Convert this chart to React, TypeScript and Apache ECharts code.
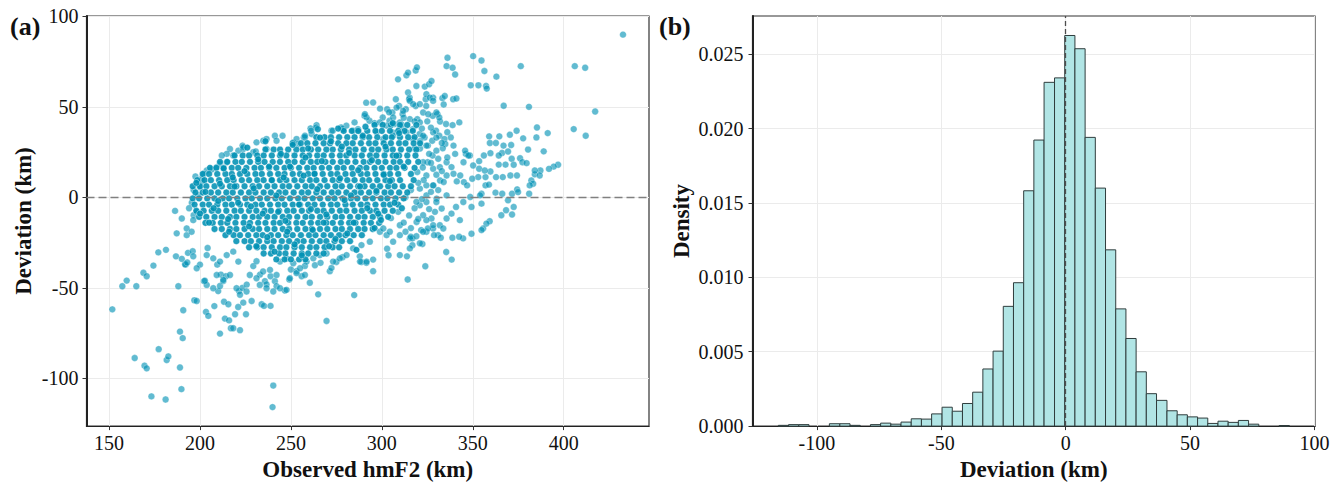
import { useEffect, useRef } from 'react';
import * as echarts from 'echarts';

const SERIF = "'Liberation Serif', 'Times New Roman', serif";

// ---- panel (a): observed hmF2 vs deviation ----
const xTicksA = [150, 200, 250, 300, 350, 400];
const yTicksA = [-100, -50, 0, 50, 100];
const xRangeA = [137.6, 446.9];
const yRangeA = [-126.4, 100.2];

// sparse points below the cloud
const lowPoints: [number, number][] = [
  [151.8, -61.9], [157.3, -49.1], [159.7, -46], [165, -49.1], [168.9, -41.7], [170.7, -43.6],
  [174.4, -37.7], [177.1, -30.4], [181.3, -29], [186.8, -32.6], [188.1, -49.1], [192.1, -37.2],
  [193.4, -30.7], [196, -29.8], [196.3, -32.6], [196.9, -56.9], [198.2, -57.3], [200, -37.2],
  [202.2, -46.3], [203.3, -63.3], [204.6, -65.5], [190.8, -62.4], [189, -74.2], [190.5, -77.8],
  [177.3, -83.9], [164.1, -88.8], [181.7, -89.9], [182.6, -87.9], [169.5, -93], [170.7, -94.5],
  [189, -94], [189.8, -106], [173.3, -110], [181.1, -111.7], [207.9, -60.1], [204.2, -28],
  [209.5, -37.2], [210, -51.8], [211, -49], [212.8, -46.3], [211.5, -42.7], [214.3, -43.6],
  [213.2, -57.7], [215.6, -59.1], [213.7, -67], [216, -68], [217, -72.3], [218.3, -72.3],
  [222, -73.4], [211, -75.3], [219.3, -64.6], [221, -60.6], [221.5, -51.8], [223.3, -50],
  [225.3, -64.6], [225.7, -48.2], [223.8, -58.2], [228.4, -57.3], [233.9, -59.1], [235.2, -60],
  [238.8, -60], [229.3, -38], [231.1, -35.3], [233, -42.7], [235.7, -46.3], [236.6, -48.1],
  [238.8, -43.6], [241.2, -46.3], [242.1, -49.1], [246.7, -51.5], [249.1, -45.4], [250, -39.9],
  [253.1, -40.8], [255.9, -43.6], [260.4, -47.2], [265, -53.6], [269.6, -68.3], [240.3, -104],
  [239.9, -115.9], [284.8, -54], [263.2, -37.5], [266.3, -36.2], [257.7, -37.9], [271.4, -40.8],
  [272.3, -39], [275, -35.7], [278.4, -33.1], [288.8, -35.7], [291.5, -36.2], [295.2, -40.8],
  [295.2, -34.4], [287.9, -32.6], [302.9, -28.4], [303.7, -32], [313.8, -32.6], [314.2, -45.4],
  [316.8, -26.5], [322.3, -25.8], [323.9, -38.1], [335.4, -30.2], [338.4, -34.4],
  [198.2, -39.2], [203.7, -48.4], [207.3, -50.2], [209.2, -42.9], [212.8, -45.6], [216.5, -42.9],
  [211, -35.5], [214.7, -31.9], [218.3, -30], [221.1, -35.5], [207.3, -33.7], [203.7, -31.9],
  [220.1, -50.2], [222, -53.8], [225.6, -52], [227.4, -42.9], [231.1, -44.7], [232.9, -48.4],
  [234.7, -41], [238.5, -40.1], [242.1, -42.9], [236.6, -50.2], [240.3, -52], [244, -50.2],
  [247.6, -51.1], [249.4, -44.7], [253.1, -41.9], [257.7, -42.9], [244, -35.5], [247.6, -33.7],
  [251.3, -36.4], [255, -39.2], [258.6, -35.5], [262.3, -33.7], [265.9, -31.9], [269.6, -31],
  [273.2, -35.5], [276.9, -33.7], [280.6, -31.9], [288, -35.5], [291.6, -35.5], [284.2, -28.2],
  [288.8, -26.4], [293.4, -24.5], [298.9, -19], [302.6, -20.9], [306.2, -24.5], [315.4, -22.7],
  [320.9, -25.4], [324.5, -19], [328.2, -17.2], [330.9, -20.9], [309.9, -31.9], [315.4, -28.2],
  [191.8, -37], [190, -34], [193, -36], [202.7, -46.1],
];

// edge of the cloud, left and top
const edgePoints: [number, number][] = [
  [190, -11.7], [196.5, -9.9], [192.7, -20.9], [186.3, -7.5], [187.2, -19.9], [192.7, -17.2],
  [195.4, -19], [196.3, -12.6], [198.2, -8], [199.1, 1.1], [201.3, 8.8], [206.4, 15.4],
  [209.2, 16.7], [211, 18.5], [214.7, 19.4], [218.3, 23.1], [221.1, 25.8], [223.8, 26.7],
  [223.4, 28.6], [229.3, 24.9], [231.1, 30.4], [234.8, 31.3], [236.6, 32.2], [241.2, 34],
  [245.4, 34], [242.1, 31.3], [251.3, 30.4], [253.1, 32.2], [257.1, 33.1], [261.4, 35],
  [264.7, 37.7], [216.5, 26.7], [214.7, 24], [212, 23.1], [203.7, 14.8], [202.2, 13],
  [200.9, 10.3], [200, 5.7], [260.8, 38.1], [264.1, 39.9], [223.8, 27.7], [230.7, 25.3],
  [236.6, 26.7], [254, 29.5], [257.7, 33.1], [272.3, 36.8], [278.8, 37.7], [284.2, 36.8],
  [287, 36.8], [196.5, 4], [195.5, -3], [197.5, 11.5], [194, -6],
];

// upper right tail
const upperPoints: [number, number][] = [
  [432.6, 89.9], [406.1, 72.5], [411.8, 71.6], [417.3, 47.4], [405.5, 37.7], [412.1, 34],
  [376.4, 72.5], [380.9, 50], [367, 50.6], [363, 66.7], [391.2, 35.5], [385.3, 38.6],
  [385, 33.1], [389, 25.4], [396.9, 18], [394.5, 17], [391.9, 15.7], [387.2, 14.8],
  [384.1, 12.7], [386.8, 12.1], [382.2, 9.3], [383.2, 7.5], [381.3, 6.6], [381, 2],
  [350.2, 78], [354.8, 75.6], [336.1, 77.1], [335.6, 72.5], [338.9, 71.6], [340.3, 67.9],
  [356.4, 69.8], [348.9, 61.9], [353.1, 61.9], [357.3, 61.5], [357.7, 60.1], [308.9, 65.2],
  [313.5, 67.4], [314.4, 68.9], [318.6, 70.1], [319.3, 71.8], [319, 61.5], [323.6, 61.2],
  [326, 62.5], [327.3, 64.3], [314.4, 57.9], [315.3, 55.1], [328.2, 55.1], [333.3, 54.8],
  [334.6, 56], [339.2, 54.2], [341, 54.6], [334, 51.3], [324.4, 50.5], [330.6, 46],
  [332, 41.9], [337.9, 33.1], [291.4, 52.3],
];

// band right of the cloud
const rightPoints: [number, number][] = [
  [359, 33.7], [364.6, 33.7], [370.4, 34.6], [374.1, 36.8], [377.7, 32.6], [359.4, 30],
  [362.7, 30], [366.9, 28.6], [371.1, 28.9], [380.4, 26.4], [366.1, 24.5], [369.4, 25.3],
  [359.7, 24.4], [364.3, 23.1], [356.1, 23.1], [353.5, 20], [348.4, 23.1], [346.2, 24],
  [371.4, 21.3], [376, 21.6], [377.3, 19.4], [379.6, 18.9], [384.1, 14.8], [364.3, 18.1],
  [368, 18.1], [359.7, 14.3], [362.8, 11.2], [366.5, 11.2], [370.7, 12.1], [374.3, 12.1],
  [372.5, 18], [357, 11.2], [353, 11.2], [349.7, 10.3], [345.1, 8.4], [346.9, 6.6],
  [357, 6.6], [354.8, 2], [362.5, 2.6], [366.2, 2], [369.4, -1.6], [371.6, 2],
  [374.4, 4.4], [374.9, 2.9], [372.5, -5.3], [371.6, -9.5], [368.3, -7.1], [354.8, -3.5],
  [349.3, -5.3], [365.7, -9.9], [359.3, -13.2], [357.5, -14.5], [355.7, -17.2], [354.8, -18.1],
  [349.3, -20.1], [344.7, -22.7], [342.9, -12.6], [338.3, -9], [335.6, -11.7], [340.8, -5.3],
  [344.8, -2.6], [348.6, 0.2], [354, 1.1], [335.6, 1.1], [330.1, -0.7], [332.9, -6.2],
  [329.2, -8], [327.3, -11.7], [331.9, -15.4], [333.8, -17.2], [325.3, -17.2], [321.6, -18.1],
  [316.8, -22.7], [315.9, -21.8], [328.7, -20.9], [332.4, -22.3], [338.8, -22.3], [342.5, -21.8],
  [358.9, 7],
];

// the looser part of the cloud, x 290-350
const midPoints: [number, number][] = [
  [328, 45], [331.6, 44.1], [335.3, 40.5], [338.9, 39.9], [342.6, 41.4], [329.8, 36.8],
  [331.6, 34], [334.4, 32.2], [334.9, 29.5], [333.5, 27.1], [339.4, 28.6], [340.3, 24],
  [345.8, 25.8], [347.6, 23.1], [344.9, 19.4], [350.2, 17.6], [353.5, 15.8], [356.6, 14.8],
  [335.6, 19.4], [331.9, 16.7], [338.3, 16.7], [331, 21.3], [327.9, 23.1], [325.2, 19.4],
  [339.4, 13], [343.1, 12.1], [341.2, 8.8], [335.6, 12.1], [332, 9.3], [328.3, 6.6],
  [315, 54.2], [318.6, 50.5], [324.1, 54.2], [322.7, 46.9], [319.5, 43.2], [317.1, 37.7],
  [320.8, 35], [323.5, 33.1], [325.3, 28.6], [327.7, 31.3], [307.7, 54.2], [309.5, 50.5],
  [311.4, 46], [313.2, 48.7], [300.5, 44.1], [304.2, 42.3], [306.9, 40.5], [306, 35.9],
  [309.7, 37.7], [302.9, 48.7], [305.8, 46.9], [290.5, 45], [293.2, 42.3], [296, 41],
  [280.5, 39.6], [285, 41.4], [286.9, 37.7], [278.6, 37.7], [273, 36.8], [277.6, 38.6],
  [263.9, 38.6], [264.8, 37.7], [261.1, 36.8], [257.7, 34],
  [295.2, 52.4], [291.6, 44.2], [290.7, 46], [308.1, 49.6], [311.7, 47.8], [315.4, 53.3],
  [317.2, 51.5], [320.9, 51.5], [324.5, 57], [326.4, 55.1], [328.2, 53.3], [306.2, 44.1],
  [309.9, 41.4], [315.4, 43.2], [320.9, 41.4], [325.5, 45.9], [330, 46.9], [298.9, 41.4],
  [302.6, 39.6], [297.1, 35.9], [300.8, 32.2], [306.2, 34], [313.6, 35.9], [317.2, 32.2],
  [322.7, 34], [328.2, 35.9], [324.5, 28.6], [330, 25.8], [322.7, 19.4], [328.2, 15.8],
  [324.5, 12.1], [328.2, 6.6], [324.5, 1.1], [330, -2.6], [320.9, -4.4], [324.5, -12.6],
  [328.2, -15.4], [322.7, -19], [320.9, 4.8], [324.5, 6.6], [324.5, -2.6], [322.7, -9.9],
  [319.1, -13.6], [309.9, -15.4], [304.4, -19], [309.9, -20.9], [300.8, -17.2],
  [321, 27], [326, 24], [319.5, 14], [323, 9.5], [327, 3], [322, -1], [318, -6], [315, -10],
  [312, -14], [316, -17], [320, -12], [326, -6.5], [331, 4], [334, 8.5], [330, 12.5], [336, 22],
  [333, 30], [327, 38.5], [322, 38], [318, 42], [312, 44], [304, 47], [299, 49], [311, 40],
  [325, 42], [321, 31], [330, 33], [336, 36], [318, 27], [322.5, 16.5], [327, 19], [333, 14.5],
  [320, 8], [316, 4], [313, 0], [319, -2.5], [309, -8], [305, -11.5], [313, -19], [319, -21.5],
];

// dense core, one row per deviation value, x positions along the row
const coreRows: [number, number[]][] = [
  [40, [296, 300.5, 305, 310, 314, 319]],
  [36.7, [279, 283.5, 287, 292, 296.5, 300, 304.5, 309, 312.5, 317]],
  [33.2, [264, 268.5, 272, 276.5, 281, 285, 289.5, 293, 297.5, 302, 305.5, 310, 314.5, 318]],
  [29.9, [251, 255.5, 259, 263.5, 268, 271.5, 276, 280.5, 284, 288.5, 293, 296.5, 301, 305, 309.5, 313, 317.5, 321]],
  [26.4, [236, 240.5, 244, 248.5, 253, 256.5, 261, 265, 269.5, 273, 277.5, 282, 285.5, 290, 294.5, 298, 302.5, 306, 310.5, 315, 319]],
  [23.1, [219, 223.5, 227, 231.5, 235, 239.5, 244, 247.5, 252, 256.5, 260, 264.5, 268, 272.5, 277, 280.5, 285, 289, 293.5, 297, 301.5, 306, 309.5, 314, 318.5]],
  [19.6, [211, 215, 219.5, 223, 227.5, 232, 235.5, 240, 244, 248.5, 252, 256.5, 261, 264.5, 269, 273, 277.5, 281, 285.5, 290, 293.5, 298, 302, 306.5, 310, 314.5, 320]],
  [16.3, [205.5, 209, 213, 217.5, 221, 225.5, 230, 233.5, 238, 242, 246.5, 250, 254.5, 259, 262.5, 267, 271, 275.5, 279, 283.5, 288, 291.5, 296, 300, 304.5, 308, 312.5, 318]],
  [12.9, [201.5, 205, 209.5, 214, 217.5, 222, 226, 230.5, 234, 238.5, 243, 246.5, 251, 255, 259.5, 263, 267.5, 272, 275.5, 280, 284, 288.5, 292, 296.5, 301, 304.5, 309, 316]],
  [9.5, [198.5, 202.5, 206, 210.5, 215, 218.5, 223, 227, 231.5, 235, 239.5, 244, 247.5, 252, 256, 260.5, 264, 268.5, 273, 276.5, 281, 285, 289.5, 293, 297.5, 302, 305.5, 310, 317.5]],
  [6.1, [196, 200, 203.5, 208, 212, 216.5, 220, 224.5, 229, 232.5, 237, 241, 245.5, 249, 253.5, 258, 261.5, 266, 270, 274.5, 278, 282.5, 287, 290.5, 295, 299, 303.5, 307, 311.5, 316]],
  [2.7, [197.5, 201.5, 206, 210, 214.5, 218, 222.5, 227, 230.5, 235, 239, 243.5, 247, 251.5, 256, 259.5, 264, 268, 272.5, 276, 280.5, 285, 288.5, 293, 297, 301.5, 305, 309.5, 314]],
  [-0.6, [196, 199.5, 204, 208, 212.5, 216, 220.5, 225, 228.5, 233, 237, 241.5, 245, 249.5, 254, 257.5, 262, 266, 270.5, 274, 278.5, 283, 286.5, 291, 295, 299.5, 303, 307.5, 312]],
  [-4, [197, 201.5, 205, 209.5, 214, 217.5, 222, 226, 230.5, 234, 238.5, 243, 246.5, 251, 255, 259.5, 263, 267.5, 272, 275.5, 280, 284, 288.5, 292, 296.5, 301, 304.5, 309]],
  [-7.4, [198, 202, 206.5, 210, 214.5, 219, 222.5, 227, 231, 235.5, 239, 243.5, 248, 251.5, 256, 260, 264.5, 268, 272.5, 277, 280.5, 285, 289, 293.5, 297, 301.5, 306]],
  [-10.8, [199.5, 203.5, 208, 212, 216.5, 220, 224.5, 229, 232.5, 237, 241, 245.5, 249, 253.5, 258, 261.5, 266, 270, 274.5, 278, 282.5, 287, 290.5, 295, 299, 303.5]],
  [-14.1, [203, 207, 211.5, 215, 219.5, 224, 227.5, 232, 236, 240.5, 244, 248.5, 253, 256.5, 261, 265, 269.5, 273, 277.5, 282, 285.5, 290, 294, 298.5]],
  [-17.5, [208, 212, 216.5, 220, 224.5, 229, 232.5, 237, 241, 245.5, 249, 253.5, 258, 261.5, 266, 270, 274.5, 278, 282.5, 287, 290.5, 295]],
  [-20.9, [214, 218.5, 222, 226.5, 231, 234.5, 239, 243, 247.5, 251, 255.5, 260, 263.5, 268, 272, 276.5, 280, 284.5, 289]],
  [-24.2, [220, 224.5, 228, 232.5, 237, 240.5, 245, 249, 253.5, 257, 261.5, 266, 269.5, 274, 278, 282.5]],
  [-27.6, [227, 231.5, 235, 239.5, 244, 247.5, 252, 256, 260.5, 264, 268.5, 273, 276.5]],
  [-31, [235, 239, 243.5, 247, 251.5, 256, 259.5, 264, 268]],
  [-34.3, [242, 246.5, 250, 254.5, 258]],
];

// extra points scattered through the core (overplotting)
const coreExtra: [number, number][] = [
  [203, 3], [207.5, -6], [211, 7.5], [215.5, -12], [218, 11], [221, -3], [224.5, 14.5], [227, -16],
  [229.5, 5], [232, 21], [234.5, -9], [237, -22], [239.5, 9.5], [242, 1], [244.5, 24], [247, -13],
  [249.5, 17], [252, -26], [254.5, -4], [257, 12], [259.5, 27], [262, -18], [264.5, 4.5], [267, 20],
  [269.5, -9.5], [272, 31], [274.5, -23], [277, 10.5], [279.5, -1.5], [282, 24.5], [284.5, -14],
  [287, 15], [289.5, 34], [292, -6], [294.5, 20.5], [297, 3.5], [299.5, -12.5], [302, 28],
  [304.5, 9], [307, -3], [309.5, 35.5], [312, 17], [205, -14], [213, 16], [216, -19], [226, 27.5],
  [231, -27], [236, 31], [241, -30], [246, 11], [251, 29], [256, -32], [261, -6.5], [266, 33],
  [271, -27], [276, 38], [281, -20], [286, -29], [291, 39], [296, -17], [301, 12.5], [306, 41],
  [311, -6], [200, -9], [198, 8], [210, -2], [219, 6], [228, -5], [238, 17], [248, -19],
  [258, 22], [268, -14], [278, 28], [288, 6], [298, -9], [308, 23], [243, -8], [263, 13], [283, 1],
];

// ---- panel (b): histogram of deviation ----
const xTicksB = [-100, -50, 0, 50, 100];
const yTicksB = [0, 0.005, 0.01, 0.015, 0.02, 0.025];
const xRangeB = [-125.9, 100.2];
const yRangeB = [0, 0.02757];

const binEdges = [
  -115.5, -111.4, -107.3, -103.2, -99.1, -95.0, -90.8, -86.7, -82.6, -78.5, -74.4, -70.3, -66.2,
  -62.1, -58.0, -53.9, -49.7, -45.6, -41.5, -37.4, -33.3, -29.2, -25.1, -21.0, -16.9, -12.8,
  -8.7, -4.5, -0.4, 3.7, 7.8, 11.9, 16.0, 20.1, 24.2, 28.3, 32.4, 36.5, 40.7, 44.8, 48.9,
  53.0, 57.1, 61.2, 65.3, 69.4, 73.5, 77.6, 81.7, 85.8, 89.9,
];
const densities = [
  0.00005, 0.0001, 0.0001, 0, 0, 0.00016, 0.00016, 0.00005, 0, 0.0001,
  0.0002, 0.00013, 0.00027, 0.00049, 0.00047, 0.00082, 0.00127, 0.001, 0.00152, 0.00228,
  0.00384, 0.00504, 0.00805, 0.00964, 0.01582, 0.01923, 0.02311, 0.02341, 0.02626, 0.02537,
  0.01941, 0.016, 0.01185, 0.00788, 0.00589, 0.00365, 0.00218, 0.00173, 0.00103, 0.00076,
  0.00062, 0.00054, 0.00018, 0.00033, 0.00025, 0.00038, 0.00013, 0, 0, 0.00004,
];

const tickText = { fontFamily: SERIF, fontSize: 20, color: '#111' };
const titleText = { fontFamily: SERIF, fontSize: 23, fontWeight: 'bold' as const, color: '#111' };
const gridLine = { show: true, lineStyle: { color: '#ebebeb', width: 1 } };

function valueAxis(grid: number, range: number[], ticks: number[], name: string, gap: number, fmt: (v: number) => string, margin: number, lineWidth: number) {
  return {
    type: 'value' as const,
    gridIndex: grid,
    min: range[0],
    max: range[1],
    name,
    nameLocation: 'middle' as const,
    nameGap: gap,
    nameTextStyle: titleText,
    axisLine: { show: true, onZero: false, lineStyle: { color: '#222', width: lineWidth } },
    axisTick: { show: true, length: 4, customValues: ticks, lineStyle: { color: '#333', width: 1 } },
    axisLabel: { customValues: ticks, margin, formatter: fmt, ...tickText },
    splitLine: gridLine,
  };
}

export default function App() {
  const ref = useRef<HTMLDivElement | null>(null);

  useEffect(() => {
    if (!ref.current) return undefined;
    const chart = echarts.init(ref.current, undefined, { renderer: 'svg' });

    const corePoints: [number, number][] = [];
    coreRows.forEach(([y, xs]) => xs.forEach((x) => corePoints.push([x, y])));
    corePoints.push(...coreExtra);
    const loosePoints = [...lowPoints, ...edgePoints, ...upperPoints, ...rightPoints, ...midPoints];
    const bins = densities.map((d, i) => [binEdges[i], binEdges[i + 1], d]);

    const dotStyle = {
      color: '#0091b4',
      borderColor: 'rgba(255,255,255,0.75)',
      borderWidth: 0.6,
    };

    chart.setOption({
      animation: false,
      grid: [
        { left: 86.5, top: 16, width: 562.5, height: 412, show: true, borderColor: '#333', borderWidth: 1.2, backgroundColor: 'transparent' },
        { left: 752.5, top: 16, width: 562.5, height: 412, show: true, borderColor: '#333', borderWidth: 1.2, backgroundColor: 'transparent' },
      ],
      xAxis: [
        valueAxis(0, xRangeA, xTicksA, 'Observed hmF2 (km)', 21, (v) => String(v), 7, 1.2),
        valueAxis(1, xRangeB, xTicksB, 'Deviation (km)', 21, (v) => String(v), 7, 1.2),
      ],
      yAxis: [
        valueAxis(0, yRangeA, yTicksA, 'Deviation (km)', 52, (v) => String(v), 8, 2),
        valueAxis(1, yRangeB, yTicksB, 'Density', 60, (v) => v.toFixed(3), 9, 2),
      ],
      graphic: [
        { type: 'text', left: 10, top: 13, style: { text: '(a)', font: `bold 26px ${SERIF}`, fill: '#111' } },
        { type: 'text', left: 659, top: 13, style: { text: '(b)', font: `bold 26px ${SERIF}`, fill: '#111' } },
      ],
      series: [
        {
          type: 'scatter',
          xAxisIndex: 0,
          yAxisIndex: 0,
          data: loosePoints,
          symbolSize: 6.8,
          itemStyle: { ...dotStyle, opacity: 0.62 },
          silent: true,
        },
        {
          type: 'scatter',
          xAxisIndex: 0,
          yAxisIndex: 0,
          data: corePoints,
          symbolSize: 6.8,
          itemStyle: { ...dotStyle, opacity: 0.88 },
          silent: true,
          markLine: {
            silent: true,
            symbol: ['none', 'none'],
            label: { show: false },
            lineStyle: { color: '#808080', type: [8, 4], width: 1.3 },
            data: [{ yAxis: 0 }],
          },
        },
        {
          type: 'custom',
          xAxisIndex: 1,
          yAxisIndex: 1,
          data: bins,
          encode: { x: [0, 1], y: 2 },
          silent: true,
          renderItem: (_params: any, api: any) => {
            const d = api.value(2);
            if (!d) return null;
            const p0 = api.coord([api.value(0), d]);
            const p1 = api.coord([api.value(1), 0]);
            return {
              type: 'rect',
              shape: { x: p0[0], y: p0[1], width: p1[0] - p0[0], height: p1[1] - p0[1] },
              style: { fill: '#b1e5e5', stroke: '#2f3d3d', lineWidth: 1 },
            };
          },
          markLine: {
            silent: true,
            symbol: ['none', 'none'],
            label: { show: false },
            lineStyle: { color: '#4d4d4d', type: [5, 3], width: 1.3 },
            data: [{ xAxis: 0 }],
          },
        },
      ],
    });

    return () => chart.dispose();
  }, []);

  return <div ref={ref} style={{ position: 'fixed', left: 0, top: 0, width: 1338, height: 486, background: '#fff' }} />;
}
